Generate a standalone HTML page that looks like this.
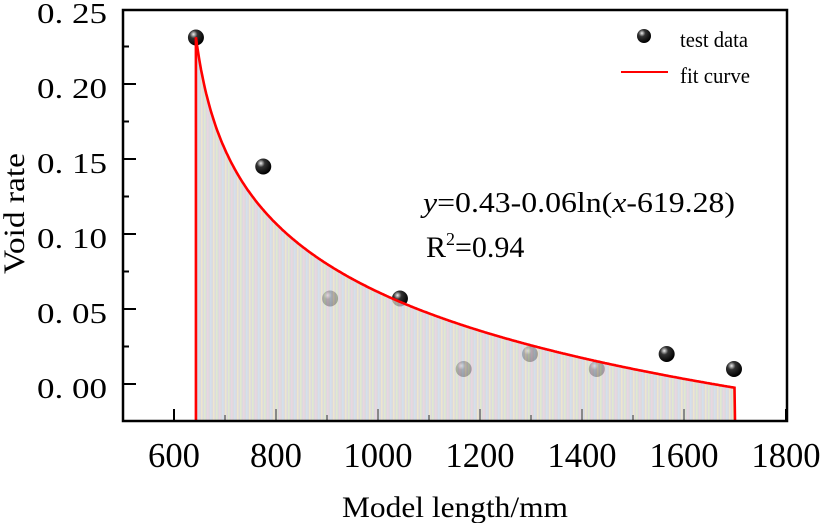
<!DOCTYPE html>
<html><head><meta charset="utf-8"><style>
body{margin:0;background:#fff;}
svg{display:block;font-family:"Liberation Serif",serif;}
</style></head><body>
<svg id="chart" width="821" height="523" viewBox="0 0 821 523">
<defs>
<pattern id="stripes" patternUnits="userSpaceOnUse" width="12" height="10">
<rect width="12" height="10" fill="#cfcdd3"/>
<rect x="0" width="1.5" height="10" fill="#d6e2bf"/>
<rect x="3" width="1.5" height="10" fill="#e2c8d6"/>
<rect x="6" width="1.5" height="10" fill="#c6d6e6"/>
<rect x="9" width="1.5" height="10" fill="#e8dcbf"/>
</pattern>
<radialGradient id="ball" cx="0.35" cy="0.3" r="0.7">
<stop offset="0" stop-color="#eee"/><stop offset="0.35" stop-color="#333"/><stop offset="1" stop-color="#000"/>
</radialGradient>
</defs>
<g id="points"></g>
<path id="fill" fill="url(#stripes)" opacity="0.75"/>
<g id="ticks"></g>
<path id="curve" fill="none" stroke="#ff0000" stroke-width="2.6"/>
<rect x="123" y="10" width="664" height="411" fill="none" stroke="#000" stroke-width="2.5"/>
<g id="labels"></g>
<text x="342" y="517" font-size="30" textLength="226" lengthAdjust="spacingAndGlyphs">Model length/mm</text>
<text transform="translate(24,274) rotate(-90)" font-size="30" textLength="121" lengthAdjust="spacingAndGlyphs">Void rate</text>
<g>
<circle cx="644" cy="36" r="7" fill="url(#ball)"/>
<text x="680" y="47" font-size="22" textLength="68" lengthAdjust="spacingAndGlyphs">test data</text>
<line x1="621" y1="72" x2="668" y2="72" stroke="#f00" stroke-width="2"/>
<text x="680" y="83" font-size="22" textLength="70" lengthAdjust="spacingAndGlyphs">fit curve</text>
</g>
<text x="423" y="212" font-size="29" textLength="312" lengthAdjust="spacingAndGlyphs"><tspan font-style="italic">y</tspan>=0.43-0.06ln(<tspan font-style="italic">x</tspan>-619.28)</text>
<text x="426" y="257" font-size="30">R<tspan font-size="18" dy="-12">2</tspan><tspan dy="12">=0.94</tspan></text>
</svg>
<script>
const xs=[643,775,906,1043,1168,1298,1429,1566,1698];
const ys=[0.231,0.145,0.057,0.057,0.010,0.020,0.010,0.020,0.010];
const xTicks=[600,800,1000,1200,1400,1600,1800];
const yTicks=[0,0.05,0.10,0.15,0.20,0.25];
const yTickLabels=["0. 00","0. 05","0. 10","0. 15","0. 20","0. 25"];
const fitA=0.425,fitB=0.0612,fitC=619.28,fitStart=643,fitEnd=1700;
const X=v=>174+(v-600)*0.51;
const Y=v=>384-v*1500;
const NS="http://www.w3.org/2000/svg";
function mk(t,a,p){const e=document.createElementNS(NS,t);for(const k in a)e.setAttribute(k,a[k]);p.appendChild(e);return e;}
const pg=document.getElementById('points');
xs.forEach((x,i)=>{const c=mk('circle',{cx:X(x),cy:Y(ys[i]),r:8,fill:'url(#ball)'},pg);

});
let d='',pts=[];
for(let x=fitStart;x<=fitEnd;x+=2){pts.push([X(x),Y(fitA-fitB*Math.log(x-fitC))]);}
d='M'+pts.map(p=>p[0].toFixed(1)+','+p[1].toFixed(1)).join(' L');
const base=421;
document.getElementById('fill').setAttribute('d','M'+X(fitStart)+','+base+' L'+d.slice(1)+' L'+X(fitEnd)+','+base+' Z');
document.getElementById('curve').setAttribute('d','M'+X(fitStart)+','+base+' L'+d.slice(1)+' L'+X(fitEnd)+','+base);
const tg=document.getElementById('ticks'),lg=document.getElementById('labels');
for(let v=600;v<=1800;v+=100){const maj=v%200===0;const inFill=v>=fitStart&&v<=fitEnd;
const l=mk('line',{x1:X(v),x2:X(v),y1:base,y2:base-(maj?12:6),stroke:inFill?'#888':'#000','stroke-width':2},tg);

}
xTicks.forEach(v=>{const w=String(v).length*17.3;const t=mk('text',{x:X(v)-w/2,y:467,'font-size':35,textLength:w,lengthAdjust:'spacingAndGlyphs'},lg);t.textContent=v;

});
for(let k=0;k<=10;k++){const v=k*0.025;const maj=k%2===0;if(Y(v)<10)continue;
const l=mk('line',{x1:123,x2:123+(maj?13:6),y1:Y(v),y2:Y(v),stroke:'#000','stroke-width':2},tg);

}
yTicks.forEach((v,i)=>{const t=mk('text',{x:37,y:Y(v)+14,'font-size':29,textLength:70,lengthAdjust:'spacingAndGlyphs'},lg);t.textContent=yTickLabels[i];

});
</script>
</body></html>
